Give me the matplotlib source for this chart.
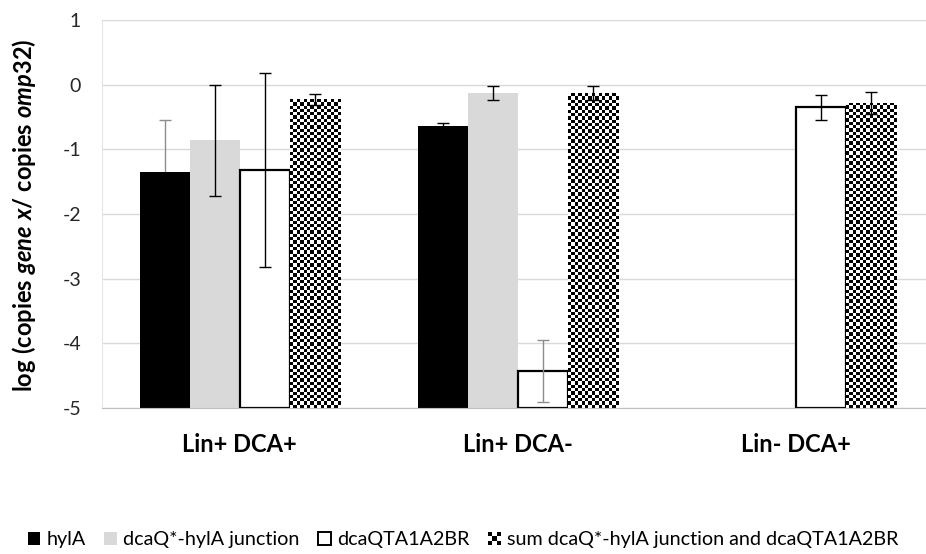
import numpy as np
import matplotlib
matplotlib.use("Agg")
import matplotlib.pyplot as plt
from matplotlib.patches import Rectangle, Patch
from matplotlib.legend_handler import HandlerBase

# ------------------------------------------------------------------
# data
# ------------------------------------------------------------------
groups = ["Lin+ DCA+", "Lin+ DCA-", "Lin- DCA+"]
series_names = ["hylA", "dcaQ*-hylA junction", "dcaQTA1A2BR",
                "sum dcaQ*-hylA junction and dcaQTA1A2BR"]

hyla = [-1.35, -0.64, np.nan]
hyla_err = [0.81, 0.05, np.nan]
junction = [-0.86, -0.13, np.nan]
junction_err = [0.86, 0.11, np.nan]
dcaqta = [-1.32, -4.43, -0.35]
dcaqta_err = [1.50, 0.48, 0.19]
total = [-0.23, -0.13, -0.28]
total_err = [0.08, 0.11, 0.17]

y_ticks = [-5, -4, -3, -2, -1, 0, 1]
baseline = -5

plt.rcParams['font.family'] = ['Lato', 'DejaVu Sans']
plt.rcParams['mathtext.fontset'] = 'custom'
plt.rcParams['mathtext.rm'] = 'Lato:bold'
plt.rcParams['mathtext.it'] = 'Lato:bold:italic'
plt.rcParams['mathtext.bf'] = 'Lato:bold'

fig = plt.figure(figsize=(9.26, 5.54), dpi=100)
ax = fig.add_axes([0.110, 0.2635, 0.890, 0.7005])

width = 0.18
offsets = np.array([-1.5, -0.5, 0.5, 1.5]) * width
x = np.arange(len(groups))


def checker_fill(rect, cols=15, cell_px=3.3, px_per_unit=64.7):
    # fill a bar with a black/white checkerboard, clipped to the bar
    x0, y0 = rect.get_x(), rect.get_y()
    w, h = rect.get_width(), rect.get_height()
    rows = max(1, int(round(h * px_per_unit / cell_px)))
    board = np.indices((rows, cols)).sum(axis=0) % 2
    im = ax.imshow(board, cmap="gray_r", vmin=0, vmax=1, origin="lower",
                   extent=(x0, x0 + w, y0, y0 + h), aspect="auto",
                   interpolation="nearest", zorder=2)
    im.set_clip_path(rect)


series = [hyla, junction, dcaqta, total]
errors = [hyla_err, junction_err, dcaqta_err, total_err]
# error bar colours per series / group (some look lighter in the original)
err_colors = [["#8c8c8c", "#000000", "#000000"],
              ["#000000", "#000000", "#000000"],
              ["#000000", "#8c8c8c", "#000000"],
              ["#000000", "#000000", "#000000"]]

for k, (vals, errs) in enumerate(zip(series, errors)):
    vals = np.array(vals, dtype=float)
    heights = vals - baseline
    xs = x + offsets[k]
    if k == 0:
        bars = ax.bar(xs, heights, width, bottom=baseline, color="#000000", zorder=2)
    elif k == 1:
        bars = ax.bar(xs, heights, width, bottom=baseline, color="#d9d9d9", zorder=2)
    elif k == 2:
        bars = ax.bar(xs, heights, width, bottom=baseline, color="white",
                      edgecolor="black", linewidth=1.6, zorder=2)
    else:
        bars = ax.bar(xs, heights, width, bottom=baseline, color="none",
                      linewidth=0, zorder=2)
        for b, v in zip(bars, vals):
            if not np.isnan(v):
                checker_fill(b)
    for i in range(len(groups)):
        if np.isnan(vals[i]):
            continue
        # hylA whiskers sit behind the black bar, so only the upper half shows
        z = 1.5 if k == 0 else 4
        ax.errorbar(xs[i], vals[i], yerr=errs[i], fmt="none",
                    ecolor=err_colors[k][i], elinewidth=1.0, capsize=4,
                    capthick=1.0, zorder=z)

ax.set_xlim(-0.4964, 2.468)
ax.set_ylim(-5, 1)
ax.set_yticks(y_ticks)
ax.set_yticklabels([str(t) for t in y_ticks])
ax.set_xticks(x)
ax.set_xticklabels(groups, fontweight="bold", fontsize=17)
ax.tick_params(axis="y", length=0, pad=15, labelsize=14, labelcolor="#262626")
ax.tick_params(axis="x", length=0, pad=18, labelcolor="black")
ax.yaxis.grid(True, color="#d9d9d9", linewidth=1.0, zorder=0)
ax.set_axisbelow(True)
for side in ["top", "right"]:
    ax.spines[side].set_visible(False)
ax.spines["bottom"].set_color("#bfbfbf")
ax.spines["bottom"].set_zorder(3)
ax.spines["left"].set_color("#e6e6e6")

fig.text(0.026, 0.612,
         r"$\mathrm{log\ (copies\ }\mathit{gene\ x}\mathrm{/\ copies\ }\mathit{omp32}\mathrm{)}$",
         rotation=90, ha="center", va="center", fontsize=17)


class CheckerHandler(HandlerBase):
    def create_artists(self, legend, orig_handle, xdescent, ydescent,
                       width, height, fontsize, trans):
        s = min(width, height)
        cell = s / 3.0
        x0 = (width - s) / 2 - xdescent
        y0 = (height - s) / 2 - ydescent
        arts = []
        for i in range(3):
            for j in range(3):
                c = "black" if (i + j) % 2 == 0 else "white"
                r = Rectangle((x0 + i * cell, y0 + j * cell), cell, cell,
                              facecolor=c, edgecolor="none", transform=trans)
                arts.append(r)
        return arts


handles = [Patch(facecolor="black"),
           Patch(facecolor="#d9d9d9"),
           Patch(facecolor="white", edgecolor="black", linewidth=1.4),
           Patch(facecolor="none")]
fig.legend(handles, series_names, loc="center", ncol=4,
           bbox_to_anchor=(0.5, 1 - 540 / 554), frameon=False,
           fontsize=14.2, handlelength=0.65, handleheight=0.65,
           handletextpad=0.3, columnspacing=0.95,
           handler_map={handles[3]: CheckerHandler()})

fig.savefig("out.png", dpi=100)
